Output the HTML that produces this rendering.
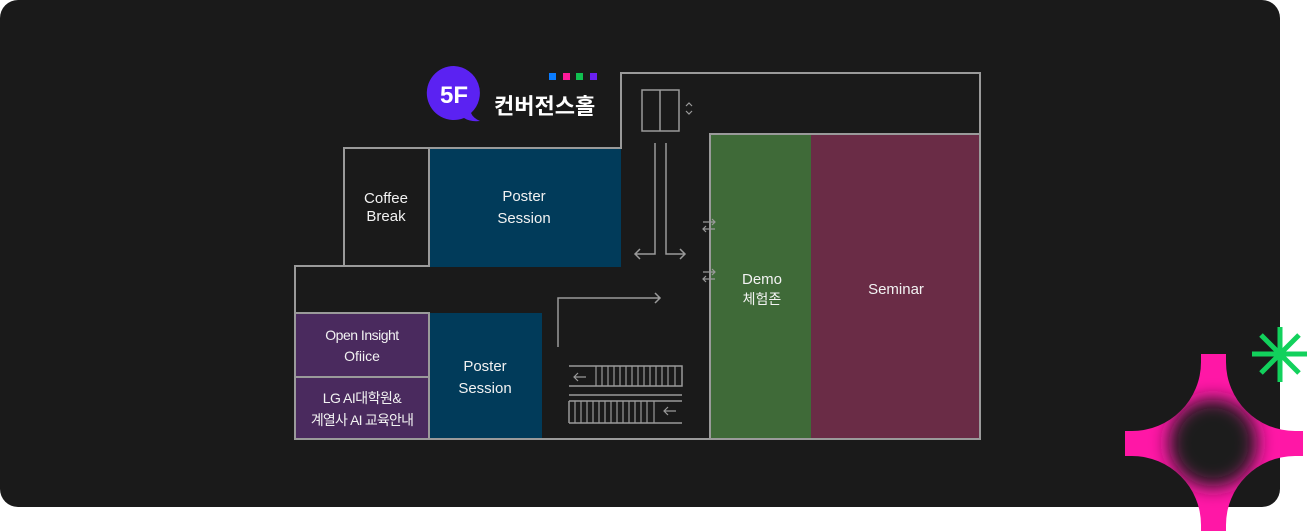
<!DOCTYPE html>
<html><head><meta charset="utf-8"><style>
html,body{margin:0;padding:0;background:#fff;width:1307px;height:531px;overflow:hidden}
svg text{font-family:"Liberation Sans","Noto Sans CJK KR",sans-serif;fill:#f2f2f2}
</style></head><body>
<svg width="1307" height="531" viewBox="0 0 1307 531" xmlns="http://www.w3.org/2000/svg">
<defs>
<filter id="bl" x="-50%" y="-50%" width="200%" height="200%"><feGaussianBlur stdDeviation="9"/></filter>
<clipPath id="sc"><path d="M1201,354 L1226,354 L1226,362 A69,69 0 0 0 1295,431 L1303,431 L1303,456 L1295,456 A69,69 0 0 0 1226,525 L1226,531 L1201,531 L1201,525 A69,69 0 0 0 1132,456 L1125,456 L1125,431 L1132,431 A69,69 0 0 0 1201,362 Z"/></clipPath>
</defs>
<rect x="0" y="0" width="1280" height="507" rx="18" fill="#1a1a1a"/>
<rect x="429" y="149" width="192" height="118" fill="#013b5a"/>
<rect x="429" y="313" width="113" height="126" fill="#013b5a"/>
<rect x="296" y="314" width="132" height="62" fill="#4a2a5e"/>
<rect x="296" y="377" width="132" height="62" fill="#4a2a5e"/>
<rect x="710" y="135" width="101" height="304" fill="#3f6a38"/>
<rect x="811" y="135" width="168" height="304" fill="#6a2c46"/>
<g fill="none" stroke="#9a9a9a" stroke-width="2">
<path d="M621,148 L621,73 L980,73 L980,439 L295,439 L295,266 L344,266 L344,148 Z"/>
<path d="M429,148 L429,267 M344,266 L429,266"/>
<path d="M709,134 L980,134 M710,134 L710,439"/>
<path d="M295,313 L429,313 L429,439 M295,377 L429,377"/>
<rect x="642" y="90" width="37" height="41" stroke-width="1.5"/>
<path d="M660,90 L660,131" stroke-width="1.5"/>
<path d="M686,106 l3,-3 l3,3 M686,111 l3,3 l3,-3" stroke-width="1.2"/>
<path d="M655,143 L655,254 L636,254 M640,249 l-5,5 l5,5 M666,143 L666,254 L684,254 M680,249 l5,5 l-5,5" stroke-width="1.5"/>
<path d="M558,347 L558,298 L660,298 M655,293 l5,5 l-5,5" stroke-width="1.5"/>
<path d="M569,366 L682,366 L682,386 L569,386 M569,395 L682,395 M569,401 L682,401 M569,423 L682,423 M569,401 L569,423" stroke-width="1.5"/>
<path d="M596,366 V386 M602,366 V386 M608,366 V386 M614,366 V386 M620,366 V386 M626,366 V386 M632,366 V386 M638,366 V386 M644,366 V386 M650,366 V386 M656,366 V386 M662,366 V386 M668,366 V386 M675,366 V386" stroke-width="1.2"/>
<path d="M575,401 V423 M581,401 V423 M587,401 V423 M593,401 V423 M599,401 V423 M605,401 V423 M611,401 V423 M617,401 V423 M623,401 V423 M629,401 V423 M635,401 V423 M641,401 V423 M647,401 V423 M654,401 V423" stroke-width="1.2"/>
<path d="M574,377 H586 M578,373 l-4,4 l4,4 M664,411 H676 M668,407 l-4,4 l4,4" stroke-width="1.2"/>
<path d="M703,222 H715 M712,219 l3,3 l-3,3 M703,229 H715 M706,226 l-3,3 l3,3" stroke-width="1.2"/>
<path d="M703,272 H715 M712,269 l3,3 l-3,3 M703,279 H715 M706,276 l-3,3 l3,3" stroke-width="1.2"/>
</g>
<g font-size="15" text-anchor="middle">
<text x="386" y="203">Coffee</text><text x="386" y="221">Break</text>
<text x="524" y="201">Poster</text><text x="524" y="223">Session</text>
<text x="485" y="371">Poster</text><text x="485" y="393">Session</text>
<text x="762" y="284">Demo</text><text x="762" y="304" font-size="14">체험존</text>
<text x="896" y="294">Seminar</text>
<text x="362" y="340" font-size="14" letter-spacing="-0.5">Open Insight</text><text x="362" y="361" font-size="14">Ofiice</text>
<text x="362" y="403" font-size="14" letter-spacing="-0.5">LG AI대학원&amp;</text><text x="362" y="425" font-size="14" letter-spacing="-0.8">계열사 AI 교육안내</text>
</g>
<path d="M454,66 a27,27 0 1 0 10,52 q6,4 16,3 q-7,-3 -9,-8 a27,27 0 0 0 -17,-47 Z" fill="#5b22f2"/>
<text x="454" y="103" font-size="24" font-weight="bold" text-anchor="middle" style="fill:#fff">5F</text>
<text x="494" y="114" font-size="22" font-weight="bold" style="fill:#fff">컨버전스홀</text>
<rect x="549" y="73" width="7" height="7" fill="#0a7cff"/>
<rect x="563" y="73" width="7" height="7" fill="#ff1a9a"/>
<rect x="576" y="73" width="7" height="7" fill="#10c050"/>
<rect x="590" y="73" width="7" height="7" fill="#6a20f0"/>
<g clip-path="url(#sc)">
<rect x="1120" y="350" width="190" height="185" fill="#ff17a6"/>
<ellipse cx="1213" cy="443" rx="44" ry="44" fill="#1a1a1a" filter="url(#bl)"/>
</g>
<g stroke="#12d15c" stroke-width="5">
<path d="M1280,327 V382 M1252,354 H1307 M1261,335 L1299,373 M1299,335 L1261,373"/>
</g>
</svg>
</body></html>
